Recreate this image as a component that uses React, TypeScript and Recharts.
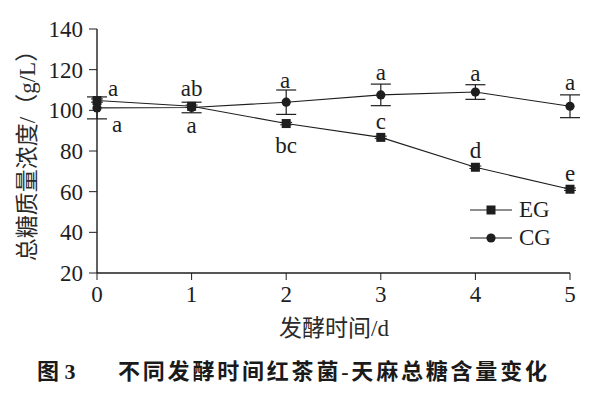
import React from 'react';
import { LineChart, Line, XAxis, YAxis, ErrorBar, LabelList } from 'recharts';

const days = [0, 1, 2, 3, 4, 5];
const egValues = [104.8, 102.0, 93.5, 86.7, 72.0, 61.2];
const egErrors = [0.8, 0.6, 0.6, 0.6, 0.6, 0.6];
const egLetters = ['a', 'ab', 'bc', 'c', 'd', 'e'];
const cgValues = [101.2, 101.4, 104.0, 107.6, 109.0, 102.0];
const cgErrors = [5.4, 2.6, 6.0, 5.3, 3.6, 5.6];
const cgLetters = ['a', 'a', 'a', 'a', 'a', 'a'];
const yTicks = [20, 40, 60, 80, 100, 120, 140];

const data = days.map((d, i) => ({
  day: d,
  eg: egValues[i],
  egErr: egErrors[i],
  cg: cgValues[i],
  cgErr: cgErrors[i],
}));

const INK = '#1e1e1e';
const SERIF = '"Liberation Serif", "Noto Sans CJK SC", serif';

const SquareDot = (props: any) => {
  const { cx, cy, index } = props;
  if (cx == null || cy == null) return null;
  return <rect key={`sq-${index}`} x={cx - 4.5} y={cy - 4.5} width={9} height={9} fill={INK} />;
};

const CircleDot = (props: any) => {
  const { cx, cy, index } = props;
  if (cx == null || cy == null) return null;
  return <circle key={`ci-${index}`} cx={cx} cy={cy} r={4.6} fill={INK} />;
};

// where each letter sits relative to its point
const egOffsets = [[16, -12], [0, -18], [0, 22], [0, -16], [0, -17], [0, -16]];
const cgOffsets = [[20, 17], [0, 18], [-1, -22], [0, -22], [0, -19], [0, -24]];

const letterRenderer = (letters: string[], offsets: number[][]) => (props: any) => {
  const { x, y, index } = props;
  const [dx, dy] = offsets[index];
  return (
    <text
      x={x + dx}
      y={y + dy}
      textAnchor="middle"
      dominantBaseline="central"
      fontFamily={SERIF}
      fontSize={23}
      fill={INK}
    >
      {letters[index]}
    </text>
  );
};

function LegendRow({ label, kind, top }: { label: string; kind: 'sq' | 'ci'; top: number }) {
  return (
    <div style={{ position: 'absolute', left: 468, top, height: 24, display: 'flex', alignItems: 'center' }}>
      <svg width={46} height={24}>
        <line x1={2} y1={12} x2={44} y2={12} stroke={INK} strokeWidth={1.2} />
        {kind === 'sq' ? (
          <rect x={18.5} y={7.5} width={9} height={9} fill={INK} />
        ) : (
          <circle cx={23} cy={12} r={4.6} fill={INK} />
        )}
      </svg>
      <span style={{ fontFamily: SERIF, fontSize: 23, color: INK, marginLeft: 5, lineHeight: '24px' }}>{label}</span>
    </div>
  );
}

export default function App() {
  return (
    <div style={{ position: 'absolute', left: 0, top: 0, width: 599, height: 393, background: '#fff' }}>
      <LineChart width={599} height={393} data={data} margin={{ top: 29, right: 29, left: 0, bottom: 0 }}>
        <XAxis
          dataKey="day"
          type="number"
          domain={[0, 5]}
          ticks={days}
          height={120}
          tickSize={7}
          tickMargin={6}
          stroke={INK}
          tick={{ fontFamily: SERIF, fontSize: 23, fill: INK }}
          tickLine={{ stroke: INK }}
          axisLine={{ stroke: INK, strokeWidth: 1.4 }}
        />
        <YAxis
          type="number"
          domain={[20, 140]}
          ticks={yTicks}
          width={97}
          tickSize={8}
          tickMargin={6}
          stroke={INK}
          tick={{ fontFamily: SERIF, fontSize: 23, fill: INK }}
          tickLine={{ stroke: INK }}
          axisLine={{ stroke: INK, strokeWidth: 1.4 }}
        />
        <Line
          dataKey="cg"
          stroke={INK}
          strokeWidth={1.1}
          dot={<CircleDot />}
          activeDot={false}
          isAnimationActive={false}
        >
          <ErrorBar dataKey="cgErr" width={10} stroke={INK} strokeWidth={1.2} />
          <LabelList dataKey="cg" content={letterRenderer(cgLetters, cgOffsets)} />
        </Line>
        <Line
          dataKey="eg"
          stroke={INK}
          strokeWidth={1.1}
          dot={<SquareDot />}
          activeDot={false}
          isAnimationActive={false}
        >
          <ErrorBar dataKey="egErr" width={6} stroke={INK} strokeWidth={1} />
          <LabelList dataKey="eg" content={letterRenderer(egLetters, egOffsets)} />
        </Line>
      </LineChart>

      <div
        style={{
          position: 'absolute',
          left: 28,
          top: 150,
          transform: 'translate(-50%, -50%) rotate(-90deg)',
          whiteSpace: 'nowrap',
          fontFamily: SERIF,
          fontSize: 23,
          color: '#2a2a2a',
          lineHeight: '26px',
        }}
      >
        总糖质量浓度/（g/L）
      </div>

      <div
        style={{
          position: 'absolute',
          left: 334,
          top: 329,
          transform: 'translate(-50%, -50%)',
          whiteSpace: 'nowrap',
          fontFamily: SERIF,
          fontSize: 23,
          color: '#2a2a2a',
          lineHeight: '26px',
        }}
      >
        发酵时间/d
      </div>

      <div
        style={{
          position: 'absolute',
          left: 37,
          top: 372,
          transform: 'translateY(-50%)',
          whiteSpace: 'nowrap',
          fontFamily: SERIF,
          fontSize: 22,
          fontWeight: 700,
          color: '#1a1a1a',
          lineHeight: '26px',
          display: 'flex',
        }}
      >
        <span style={{ width: 81 }}>图 3</span>
        <span style={{ letterSpacing: 2.8 }}>不同发酵时间红茶菌-天麻总糖含量变化</span>
      </div>

      <LegendRow label="EG" kind="sq" top={198} />
      <LegendRow label="CG" kind="ci" top={226} />
    </div>
  );
}
